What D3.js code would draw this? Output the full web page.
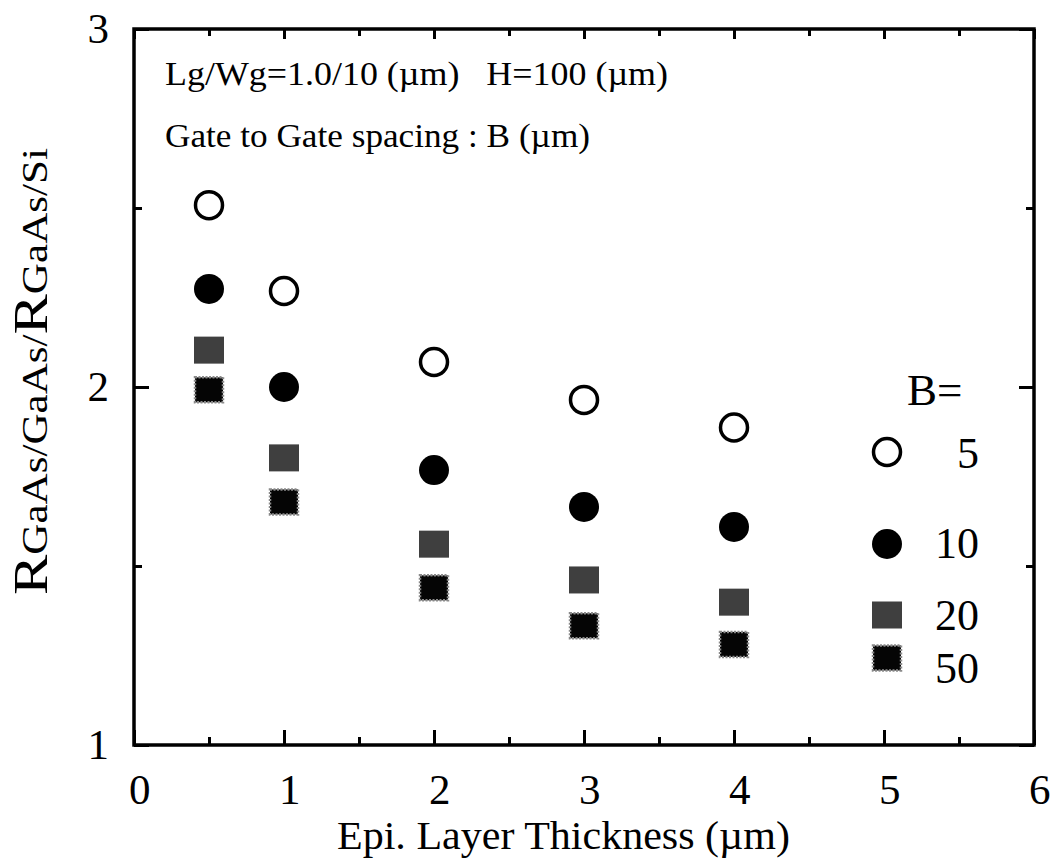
<!DOCTYPE html>
<html><head><meta charset="utf-8">
<script src="https://cdn.jsdelivr.net/npm/d3@7"></script>
<style>body{margin:0;background:#fff}svg{display:block}text{font-family:"Liberation Serif","Times New Roman",serif;fill:#000}</style>
</head><body>
<script>
const thickness = [0.5, 1, 2, 3, 4];
const seriesB5  = [2.508, 2.268, 2.07, 1.964, 1.887];
const seriesB10 = [2.274, 2.0, 1.768, 1.665, 1.609];
const seriesB20 = [2.103, 1.802, 1.561, 1.461, 1.399];
const seriesB50 = [1.992, 1.679, 1.439, 1.333, 1.281];
const legendLabels = ["5", "10", "20", "50"];
const xTicks = [0, 1, 2, 3, 4, 5, 6];
const xMinor = [0.5, 1.5, 2.5, 3.5, 4.5, 5.5];
const yTicks = [1, 2, 3];
const yMinor = [1.5, 2.5];

const W = 1064, H = 862;
const svg = d3.select("body").append("svg").attr("width", W).attr("height", H);
const x = d3.scaleLinear().domain([0, 6]).range([134, 1034]);
const y = d3.scaleLinear().domain([1, 3]).range([745, 29]);

function styleAxis(g){
  g.select(".domain").remove();
  g.selectAll(".tick line").attr("stroke", "#000").attr("stroke-width", 3);
  g.selectAll(".tick text").style("font-size", "43px").style("font-family", '"Liberation Serif",serif');
}
// bottom
svg.append("g").attr("transform", `translate(0,${y(1)})`)
  .call(d3.axisBottom(x).tickValues(xTicks).tickSize(-15).tickPadding(37).tickFormat(d3.format("d")))
  .call(styleAxis).call(g => g.selectAll(".tick text").attr("dy", "0.5em").attr("dx", "0.12em"));
svg.append("g").attr("transform", `translate(0,${y(1)})`)
  .call(d3.axisBottom(x).tickValues(xMinor).tickSize(-8).tickFormat(""))
  .call(styleAxis);
// top
svg.append("g").attr("transform", `translate(0,${y(3)})`)
  .call(d3.axisTop(x).tickValues(xTicks).tickSize(-10).tickFormat(""))
  .call(styleAxis);
svg.append("g").attr("transform", `translate(0,${y(3)})`)
  .call(d3.axisTop(x).tickValues(xMinor).tickSize(-7).tickFormat(""))
  .call(styleAxis);
// left
svg.append("g").attr("transform", `translate(${x(0)},0)`)
  .call(d3.axisLeft(y).tickValues(yTicks).tickSize(-15).tickPadding(25).tickFormat(d3.format("d")))
  .call(styleAxis);
svg.append("g").attr("transform", `translate(${x(0)},0)`)
  .call(d3.axisLeft(y).tickValues(yMinor).tickSize(-8).tickFormat(""))
  .call(styleAxis);
// right
svg.append("g").attr("transform", `translate(${x(6)},0)`)
  .call(d3.axisRight(y).tickValues(yTicks).tickSize(-15).tickFormat(""))
  .call(styleAxis);
svg.append("g").attr("transform", `translate(${x(6)},0)`)
  .call(d3.axisRight(y).tickValues(yMinor).tickSize(-8).tickFormat(""))
  .call(styleAxis);

// frame
svg.append("rect").attr("x", x(0)).attr("y", y(3)).attr("width", x(6) - x(0)).attr("height", y(1) - y(3))
  .attr("fill", "none").attr("stroke", "#000").attr("stroke-width", 3.5);

// axis titles
svg.append("text").attr("x", 337).attr("y", 849)
  .attr("textLength", 453).attr("lengthAdjust", "spacingAndGlyphs")
  .style("font-size", "41px").text("Epi. Layer Thickness (\u00b5m)");
const yt = svg.append("text").attr("transform", "translate(47,595) rotate(-90)")
  .attr("textLength", 447).attr("lengthAdjust", "spacingAndGlyphs");
yt.append("tspan").style("font-size", "49px").text("R");
yt.append("tspan").style("font-size", "35px").text("GaAs/GaAs/");
yt.append("tspan").style("font-size", "49px").text("R");
yt.append("tspan").style("font-size", "35px").text("GaAs/Si");

// annotations
svg.append("text").attr("x", 165).attr("y", 85).style("font-size", "34px")
  .attr("textLength", 503).attr("lengthAdjust", "spacingAndGlyphs")
  .attr("xml:space", "preserve").style("white-space", "pre")
  .text("Lg/Wg=1.0/10 (\u00b5m)   H=100 (\u00b5m)");
svg.append("text").attr("x", 165).attr("y", 147).style("font-size", "34px")
  .attr("textLength", 425).attr("lengthAdjust", "spacingAndGlyphs")
  .text("Gate to Gate spacing : B (\u00b5m)");

// markers
const sq = {w: 30, h: 27};
function openCircle(sel){ sel.attr("r", 13.5).attr("fill", "#fff").attr("stroke", "#000").attr("stroke-width", 3.5); }
function fillCircle(sel){ sel.attr("r", 15).attr("fill", "#000"); }
function graySquare(sel, cx, cy){ sel.attr("x", cx - sq.w/2).attr("y", cy - sq.h/2).attr("width", sq.w).attr("height", sq.h).attr("fill", "#3f3f3f"); }
function blackSquare(sel, cx, cy){ sel.attr("x", cx - sq.w/2 + 1).attr("y", cy - sq.h/2 + 1).attr("width", sq.w - 2).attr("height", sq.h - 2)
  .attr("fill", "#050505").attr("stroke", "#8a8a8a").attr("stroke-width", 2.5).attr("stroke-dasharray", "2 1.5"); }

const pts = thickness.map((t, i) => ({t, i}));
svg.append("g").selectAll("circle").data(pts).join("circle")
  .attr("cx", d => x(d.t)).attr("cy", d => y(seriesB5[d.i])).call(openCircle);
svg.append("g").selectAll("circle").data(pts).join("circle")
  .attr("cx", d => x(d.t)).attr("cy", d => y(seriesB10[d.i])).call(fillCircle);
svg.append("g").selectAll("rect").data(pts).join("rect")
  .each(function(d){ graySquare(d3.select(this), x(d.t), y(seriesB20[d.i])); });
svg.append("g").selectAll("rect").data(pts).join("rect")
  .each(function(d){ blackSquare(d3.select(this), x(d.t), y(seriesB50[d.i])); });

// legend
const lg = svg.append("g");
lg.append("text").attr("x", 907).attr("y", 405).style("font-size", "45px").text("B=");
const lx = 887;
lg.append("circle").attr("cx", lx).attr("cy", 452).call(openCircle);
lg.append("circle").attr("cx", lx).attr("cy", 544).call(fillCircle);
graySquare(lg.append("rect"), lx, 615);
blackSquare(lg.append("rect"), lx, 658);
const labY = [468, 558, 630, 683];
lg.selectAll("text.lab").data(legendLabels).join("text").attr("class", "lab")
  .attr("x", 979).attr("y", (d, i) => labY[i]).attr("text-anchor", "end")
  .style("font-size", "44px").text(d => d);
</script>
</body></html>
